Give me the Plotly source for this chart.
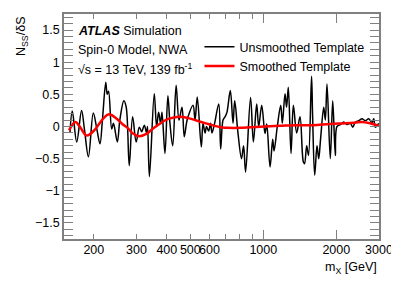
import plotly.graph_objects as go

# Unsmoothed template (mass in GeV, N_SS/deltaS)
m_unsm = [159.5, 163, 170, 178, 183, 190, 199, 206, 212, 217, 224, 227, 230, 237, 241, 250, 256, 266, 272,
          280, 289, 299, 308, 315, 323, 330, 333, 339, 355, 363, 370, 377, 382, 393, 404, 412, 423, 437,
          449, 462, 472, 482, 489, 513, 523, 534, 555, 564, 575, 583, 595, 606, 614, 629, 655, 667, 682,
          695, 708, 731, 750, 762, 786, 813, 829, 845, 886, 910, 939, 957, 985, 1016, 1033, 1066, 1093,
          1107, 1142, 1180, 1198, 1229, 1247, 1268, 1301, 1330, 1373, 1417, 1462, 1479, 1510, 1536, 1581,
          1596, 1629, 1665, 1692, 1722, 1775, 1802, 1831, 1889, 1933, 1981, 2013, 2078, 2146, 2214, 2285,
          2338, 2396, 2474, 2553, 2634, 2720, 2807, 2853, 2897, 2990]
v_unsm = [-0.09, 0.24, -0.24, 0.25, -0.05, -0.47, 0.21, -0.05, -0.27, 0.10, 0.69, 0.50, 0.55, -0.04, 0.05,
          -0.24, 0.10, 0.40, 0.30, -0.61, 0.15, -0.24, -0.01, -0.08, 0.02, -0.10, 0.00, -0.78, 0.51, 0.00,
          0.22, 0.05, 0.22, -0.42, 0.48, 0.05, -0.30, 0.64, 0.10, 0.30, -0.16, 0.05, 0.15, 0.33, 0.10, 0.46,
          -0.32, 0.05, -0.10, 0.00, -0.07, 0.05, -0.10, 0.04, 0.35, -0.35, 0.10, 0.15, 0.22, 0.56, 0.05,
          0.40, -0.10, -0.50, -0.30, -0.71, 0.45, -0.24, 0.35, 0.00, 0.33, -0.11, 0.04, -0.63, -0.20, -0.38,
          0.00, 0.33, 0.05, 0.51, 0.30, 0.61, -0.42, 0.33, -0.10, 0.15, -0.55, -0.58, -0.30, -0.45, 0.78,
          0.20, -0.76, -0.30, -0.50, -0.20, 0.30, 0.10, 0.66, -0.50, 0.40, -0.45, 0.00, 0.03, 0.07, 0.03,
          0.05, -0.01, 0.07, 0.09, 0.12, 0.09, 0.12, 0.06, 0.12, -0.01, 0.05]

# Smoothed template
m_sm = [158, 168, 175, 187, 202, 216, 231, 247, 262, 277, 290, 308, 331, 351, 373, 401, 428, 453, 489,
        523, 555, 592, 630, 669, 715, 801, 892, 1016, 1172, 1351, 1603, 1884, 2178, 2388, 2553, 2754, 2995]
v_sm = [-0.06, 0.07, 0.00, -0.14, -0.05, 0.10, 0.19, 0.13, 0.04, -0.03, -0.11, -0.15, -0.11, -0.03, 0.04,
        0.11, 0.14, 0.15, 0.13, 0.10, 0.07, 0.04, 0.01, -0.01, -0.02, -0.02, -0.01, 0.00, 0.01, 0.02, 0.02,
        0.04, 0.05, 0.06, 0.07, 0.05, 0.01]

x_tick_vals = [200, 300, 400, 500, 600, 1000, 2000, 3000]
x_tick_text = ["200", "300", "400", "500", "600", "1000", "2000", "3000"]
x_minor_vals = [700, 800, 900]
x_long_vals = [1000, 2000]

FONT = "Liberation Sans, Arial, Helvetica, sans-serif"
GRAY = "#808080"

# page body has an 8px margin: shrink the figure so the plot area lands where the reference has it
OFF = 8
W, H = 399 - OFF, 286 - OFF
L, T = 64 - OFF, 14 - OFF
PW, PH = 315, 225

fig = go.Figure()
fig.add_trace(go.Scatter(x=m_unsm, y=v_unsm, mode="lines", name="Unsmoothed Template",
                         line=dict(color="black", width=1.5, shape="spline", smoothing=1.0)))
fig.add_trace(go.Scatter(x=m_sm, y=v_sm, mode="lines", name="Smoothed Template",
                         line=dict(color="#ff0000", width=2.5, shape="spline", smoothing=1.0)))
# invisible trace to host the long-tick overlay axis
fig.add_trace(go.Scatter(x=[1000], y=[0], xaxis="x2", mode="markers", marker=dict(opacity=0),
                         showlegend=False, hoverinfo="skip"))

xr = [2.178, 3.4771]
fig.update_layout(
    width=W, height=H,
    margin=dict(l=L, r=W - L - PW, t=T, b=H - T - PH, autoexpand=False),
    paper_bgcolor="white", plot_bgcolor="white",
    font=dict(family=FONT, size=12, color="black"),
    showlegend=True,
    legend=dict(x=0.43, y=0.92, xanchor="left", yanchor="top", bgcolor="rgba(0,0,0,0)",
                font=dict(size=12.5), tracegroupgap=0),
    xaxis=dict(type="log", range=xr, tickvals=x_tick_vals, ticktext=x_tick_text, tickangle=0,
               automargin=False, ticklabelstandoff=-2,
               ticks="inside", ticklen=5, tickcolor=GRAY, tickwidth=1,
               minor=dict(tickvals=x_minor_vals, ticks="inside", ticklen=5, tickcolor=GRAY),
               showline=True, linecolor=GRAY, linewidth=1.5, mirror="allticks",
               showgrid=False, zeroline=False, tickfont=dict(size=12.5)),
    xaxis2=dict(type="log", range=xr, overlaying="x", side="bottom", tickvals=x_long_vals,
                automargin=False,
                showticklabels=False, ticks="inside", ticklen=9, tickcolor=GRAY, tickwidth=1,
                mirror="ticks", showline=False, showgrid=False, zeroline=False),
    yaxis=dict(range=[-1.75, 1.75], tickvals=[-1.5, -1, -0.5, 0, 0.5, 1, 1.5],
               ticktext=["\u22121.5", "\u22121", "\u22120.5", "0", "0.5", "1", "1.5"],
               automargin=False,
               ticks="inside", ticklen=9, tickcolor=GRAY, tickwidth=1,
               minor=dict(dtick=0.1, ticks="inside", ticklen=5, tickcolor=GRAY),
               showline=True, linecolor=GRAY, linewidth=1.5, mirror="allticks",
               showgrid=False, zeroline=False, tickfont=dict(size=12.5)),
)

ann = [
    dict(text="<b><i>ATLAS</i></b> Simulation", x=76, y=31.5),
    dict(text="Spin-0 Model, NWA", x=76, y=50),
    dict(text="\u221As = 13 TeV, 139 fb<sup>-1</sup>", x=76, y=69),
]
for a in ann:
    fig.add_annotation(text=a["text"], xref="paper", yref="paper",
                       x=(a["x"] - 64) / PW, y=(239 - a["y"]) / PH,
                       xanchor="left", yanchor="middle", showarrow=False,
                       font=dict(size=12.5, family=FONT))

fig.add_annotation(text="m<sub>X</sub> [GeV]", xref="paper", yref="paper", x=1, y=(239 - 268) / PH,
                   xanchor="right", yanchor="middle", showarrow=False, font=dict(size=12.5, family=FONT))
fig.add_annotation(text="N<sub>SS</sub>/\u03b4S", xref="paper", yref="paper", x=(22 - 64) / PW, y=1.0,
                   xanchor="center", yanchor="top", textangle=-90, showarrow=False,
                   font=dict(size=12.5, family=FONT))

fig.write_html("out.html")
